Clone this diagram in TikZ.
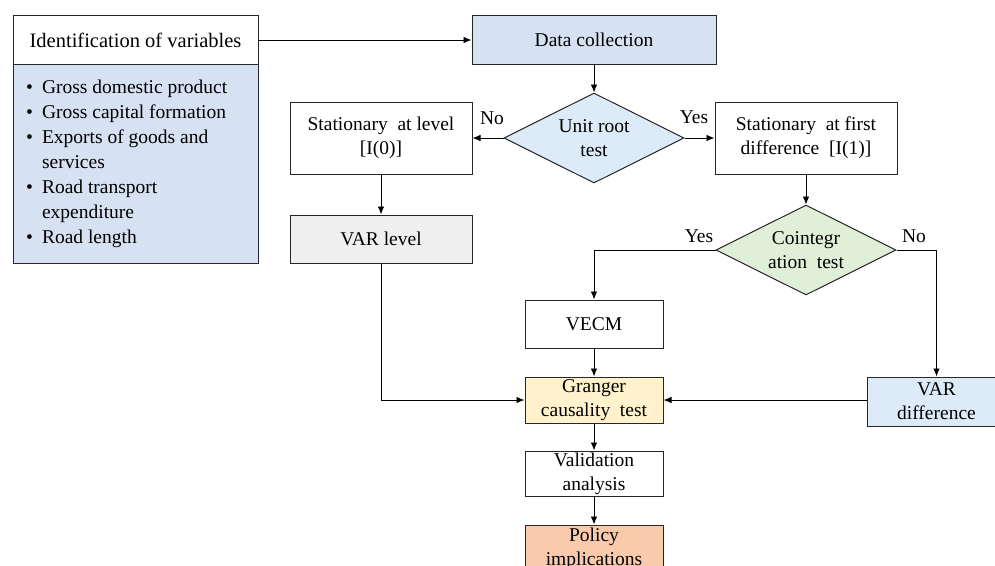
\documentclass[tikz,border=0pt]{standalone}
\usepackage{fontspec}
\setmainfont{Liberation Serif}
\usetikzlibrary{shapes.geometric,arrows.meta}
\definecolor{listblue}{HTML}{D6E1F1}
\definecolor{lightblue}{HTML}{DCEBF7}
\definecolor{lightgreen}{HTML}{E0F0D8}
\definecolor{lightgray}{HTML}{EFEFEF}
\definecolor{lightyellow}{HTML}{FFF2CC}
\definecolor{peach}{HTML}{F9CBAC}
\definecolor{edge}{HTML}{262626}
\tikzset{
  every node/.style={font=\fontsize{19.5}{24}\selectfont},
  box/.style={draw=edge, line width=1pt, rectangle, inner sep=0pt, align=center},
  dia/.style={draw=edge, line width=1pt, diamond, aspect=2, inner sep=0pt, align=center,
    minimum width=180pt, minimum height=90pt},
  arr/.style={draw=black, line width=0.9pt, -{Latex[length=8pt,width=6.5pt]}},
  lbl/.style={inner sep=0pt}
}
\begin{document}
\begin{tikzpicture}[x=1pt,y=-1pt]
\clip (0,0) rectangle (995,565);
\fill[white] (0,0) rectangle (995,565);
% left block
\node[box, fill=white, minimum width=245pt, minimum height=49pt, font=\fontsize{20.5}{24}\selectfont] (identh) at (135.5,40) {Identification of variables};
\node[box, fill=listblue, minimum width=245pt, minimum height=199pt] (identl) at (135.5,163.5) {};
\node[anchor=base west, inner sep=0pt] (bullets) at (26,93) {%
  \fontsize{19.5}{25}\selectfont
  \begin{tabular}[t]{@{}l@{\hspace{9pt}}l@{}}
  \textbullet & Gross domestic product\\
  \textbullet & Gross capital formation\\
  \textbullet & Exports of goods and\\
   & services\\
  \textbullet & Road transport\\
   & expenditure\\
  \textbullet & Road length
  \end{tabular}};
% main flow
\node[box, fill=listblue, minimum width=244pt, minimum height=49pt] (data) at (594,40) {Data collection};
\node[dia, fill=lightblue] (unit) at (594,138) {Unit root\\test};
\node[box, fill=white, minimum width=182pt, minimum height=72pt] (statL) at (381,138) {Stationary\ \ at level\\{[I(0)]}};
\node[box, fill=white, minimum width=182pt, minimum height=72pt] (statF) at (806,138) {Stationary\ \ at first\\difference\ \ [I(1)]};
\node[box, fill=lightgray, minimum width=182pt, minimum height=48pt] (varL) at (381,239) {VAR level};
\node[dia, fill=lightgreen] (coint) at (806,250) {Cointegr\\ation\ \ test};
\node[box, fill=white, minimum width=138pt, minimum height=48pt] (vecm) at (594,324) {VECM};
\node[box, fill=lightyellow, minimum width=138pt, minimum height=46pt] (granger) at (594,400) {Granger\\causality\ \ test};
\node[box, fill=lightblue, minimum width=139pt, minimum height=49pt] (vardiff) at (936.5,401.5) {VAR\\difference};
\node[box, fill=white, minimum width=138pt, minimum height=45pt] (valid) at (594,473.5) {Validation\\analysis};
\node[box, fill=peach, minimum width=138pt, minimum height=48pt] (policy) at (594,549) {Policy\\implications};
% connectors
\draw[arr] (identh.east) -- (data.west);
\draw[arr] (data.south) -- (unit.north);
\draw[arr] (unit.west) -- (statL.east);
\draw[arr] (unit.east) -- (statF.west);
\draw[arr] (statL.south) -- (varL.north);
\draw[arr] (statF.south) -- (coint.north);
\draw[arr] (coint.west) -| (vecm.north);
\draw[arr] (coint.east) -| (vardiff.north);
\draw[arr] (vecm.south) -- (granger.north);
\draw[arr] (varL.south) |- (granger.west);
\draw[arr] (vardiff.west |- granger.east) -- (granger.east);
\draw[arr] (granger.south) -- (valid.north);
\draw[arr] (valid.south) -- (policy.north);
% labels
\node[lbl] (noA) at (492,118) {No};
\node[lbl] (yesA) at (694,117) {Yes};
\node[lbl] (yesB) at (699,236) {Yes};
\node[lbl] (noB) at (914,236) {No};
\end{tikzpicture}
\end{document}
